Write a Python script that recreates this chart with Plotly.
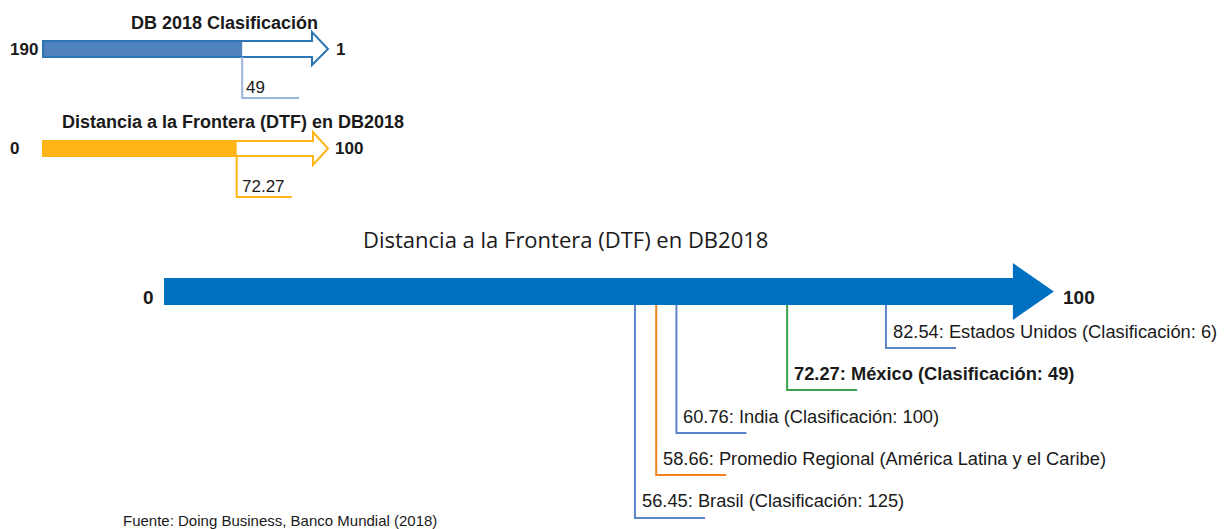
import plotly.graph_objects as go

# ---------------- data ----------------
RANK_WORST = 190
RANK_BEST = 1
MEXICO_RANK = 49

DTF_MIN = 0
DTF_MAX = 100
MEXICO_DTF = 72.27

labels = ["Estados Unidos", "México", "India",
          "Promedio Regional (América Latina y el Caribe)", "Brasil"]
dtf_values = [82.54, 72.27, 60.76, 58.66, 56.45]
rankings = [6, 49, 100, None, 125]

# ---------------- styles / layout ----------------
W, H = 1228, 529
BLUE = "#0070c0"
RANK_OUT = "#2e75b6"
RANK_FILL = "#4f81bd"
RANK_DROP = "#9db5dc"
GOLD = "#ffb515"
LINE_COLORS = ["#5a85c9", "#3aa14f", "#5a85c9", "#f5821f", "#5a85c9"]
DROP_BOTTOM = [348, 390, 433, 475, 518]
LABEL_Y = [331, 373, 416, 458, 500]
BOLD = [False, True, False, False, False]
TXT = "#1a1a1a"
SANS = "Liberation Sans"

fig = go.Figure()

# main axis (value units): px = 91.9 + 9.62*v
main_range = [-91.9 / 9.62, (W - 91.9) / 9.62]
# rank axis: px = 43 + (190-r)*1.4127
rk = 267 / 189
rank_range = [RANK_WORST + 43 / rk, RANK_WORST - (W - 43) / rk]
# small dtf axis: px = 43 + 2.68*v
sd = 2.68
sdtf_range = [-43 / sd, (W - 43) / sd]

shapes = []
annos = []


def px(x):
    return x / W


# ---------- top: ranking arrow ----------
shapes.append(dict(type="rect", xref="x2", yref="y", x0=RANK_WORST, x1=MEXICO_RANK,
                   y0=41, y1=57, fillcolor=RANK_FILL, line=dict(width=0), layer="above"))
shapes.append(dict(type="path", xref="paper", yref="y",
                   path=f"M {px(43)},41 L {px(312)},41 L {px(312)},32 L {px(328)},49 "
                        f"L {px(312)},65 L {px(312)},57 L {px(43)},57 Z",
                   line=dict(color=RANK_OUT, width=2), fillcolor="rgba(0,0,0,0)", layer="above"))
shapes.append(dict(type="path", xref="x2", yref="y",
                   path=f"M {MEXICO_RANK},57 L {MEXICO_RANK},98 L {MEXICO_RANK - 57 / rk},98",
                   line=dict(color=RANK_DROP, width=2)))
annos += [
    dict(text="<b>DB 2018 Clasificación</b>", x=px(224), y=23, xref="paper", yref="y",
         xanchor="center", showarrow=False, font=dict(size=18, color=TXT, family=SANS)),
    dict(text=f"<b>{RANK_WORST}</b>", x=px(24), y=49, xref="paper", yref="y", xanchor="center",
         showarrow=False, font=dict(size=17, color=TXT, family=SANS)),
    dict(text=f"<b>{RANK_BEST}</b>", x=px(334), y=49, xref="paper", yref="y", xanchor="left",
         showarrow=False, font=dict(size=17, color=TXT, family=SANS)),
    dict(text=f"{MEXICO_RANK}", x=MEXICO_RANK, y=87, xref="x2", yref="y", xanchor="left",
         xshift=2, showarrow=False, font=dict(size=17, color=TXT, family=SANS)),
]

# ---------- top: small DTF arrow ----------
shapes.append(dict(type="rect", xref="x3", yref="y", x0=DTF_MIN, x1=MEXICO_DTF,
                   y0=141, y1=156, fillcolor=GOLD, line=dict(width=0), layer="above"))
shapes.append(dict(type="path", xref="paper", yref="y",
                   path=f"M {px(43)},141 L {px(313)},141 L {px(313)},132 L {px(328)},148.5 "
                        f"L {px(313)},165 L {px(313)},156 L {px(43)},156 Z",
                   line=dict(color=GOLD, width=2), fillcolor="rgba(0,0,0,0)", layer="above"))
shapes.append(dict(type="path", xref="x3", yref="y",
                   path=f"M {MEXICO_DTF},156 L {MEXICO_DTF},197 L {MEXICO_DTF + 55 / sd},197",
                   line=dict(color=GOLD, width=2)))
annos += [
    dict(text="<b>Distancia a la Frontera (DTF) en DB2018</b>", x=px(233), y=122, xref="paper",
         yref="y", xanchor="center", showarrow=False,
         font=dict(size=18, color=TXT, family=SANS)),
    dict(text=f"<b>{DTF_MIN}</b>", x=px(14), y=148, xref="paper", yref="y", xanchor="center",
         showarrow=False, font=dict(size=17, color=TXT, family=SANS)),
    dict(text=f"<b>{DTF_MAX}</b>", x=px(333), y=148, xref="paper", yref="y", xanchor="left",
         showarrow=False, font=dict(size=17, color=TXT, family=SANS)),
    dict(text=f"{MEXICO_DTF:.2f}", x=MEXICO_DTF, y=186, xref="x3", yref="y", xanchor="left",
         xshift=3, showarrow=False, font=dict(size=17, color=TXT, family=SANS)),
]

# ---------- main arrow ----------
start_v = (164 - 91.9) / 9.62
head_len = 41 / 9.62
shapes.append(dict(type="path", xref="x", yref="y",
                   path=f"M {start_v},278 L {DTF_MAX - head_len},278 L {DTF_MAX - head_len},263 "
                        f"L {DTF_MAX},291.5 L {DTF_MAX - head_len},320 L {DTF_MAX - head_len},305 "
                        f"L {start_v},305 Z",
                   line=dict(width=0), fillcolor=BLUE, layer="above"))
annos += [
    dict(text="Distancia a la Frontera (DTF) en DB2018", x=px(565), y=239, xref="paper", yref="y",
         xanchor="center", showarrow=False, font=dict(size=22, color=TXT, family="Open Sans")),
    dict(text=f"<b>{DTF_MIN}</b>", x=px(148), y=297, xref="paper", yref="y", xanchor="center",
         showarrow=False, font=dict(size=19, color=TXT, family=SANS)),
    dict(text=f"<b>{DTF_MAX}</b>", x=DTF_MAX, y=297, xref="x", yref="y", xanchor="left", xshift=7,
         showarrow=False, font=dict(size=19, color=TXT, family=SANS)),
]

for name, v, r, col, yb, yl, b in zip(labels, dtf_values, rankings, LINE_COLORS,
                                      DROP_BOTTOM, LABEL_Y, BOLD):
    shapes.append(dict(type="path", xref="x", yref="y",
                       path=f"M {v},305 L {v},{yb} L {v + 70 / 9.62},{yb}",
                       line=dict(color=col, width=2), layer="below"))
    txt = f"{v:.2f}: {name}"
    if r is not None:
        txt += f" (Clasificación: {r})"
    if b:
        txt = f"<b>{txt}</b>"
    annos.append(dict(text=txt, x=v, y=yl, xref="x", yref="y", xanchor="left", xshift=5,
                      showarrow=False, font=dict(size=18.3, color=TXT, family=SANS)))

annos.append(dict(text="Fuente: Doing Business, Banco Mundial (2018)", x=px(121), y=520,
                  xref="paper", yref="y", xanchor="left", showarrow=False,
                  font=dict(size=15, color=TXT, family=SANS)))

# invisible traces to anchor axes
fig.add_trace(go.Scatter(x=[DTF_MIN, DTF_MAX], y=[0, 0], mode="markers", opacity=0,
                         hoverinfo="skip", showlegend=False, xaxis="x", yaxis="y"))
fig.add_trace(go.Scatter(x=[RANK_WORST, RANK_BEST], y=[0, 0], mode="markers", opacity=0,
                         hoverinfo="skip", showlegend=False, xaxis="x2", yaxis="y"))
fig.add_trace(go.Scatter(x=[DTF_MIN, DTF_MAX], y=[0, 0], mode="markers", opacity=0,
                         hoverinfo="skip", showlegend=False, xaxis="x3", yaxis="y"))

ax = dict(visible=False, showgrid=False, zeroline=False, fixedrange=True)
fig.update_layout(
    width=W, height=H, margin=dict(l=0, r=0, t=0, b=0),
    paper_bgcolor="white", plot_bgcolor="white", showlegend=False,
    xaxis=dict(range=main_range, domain=[0, 1], **ax),
    xaxis2=dict(range=rank_range, domain=[0, 1], overlaying="x", anchor="y", **ax),
    xaxis3=dict(range=sdtf_range, domain=[0, 1], overlaying="x", anchor="y", **ax),
    yaxis=dict(range=[H, 0], domain=[0, 1], **ax),
    shapes=shapes, annotations=annos,
)

fig.write_html("out.html", config={"displayModeBar": False},
               post_script="document.body.style.margin='0';document.body.style.overflow='hidden';")
